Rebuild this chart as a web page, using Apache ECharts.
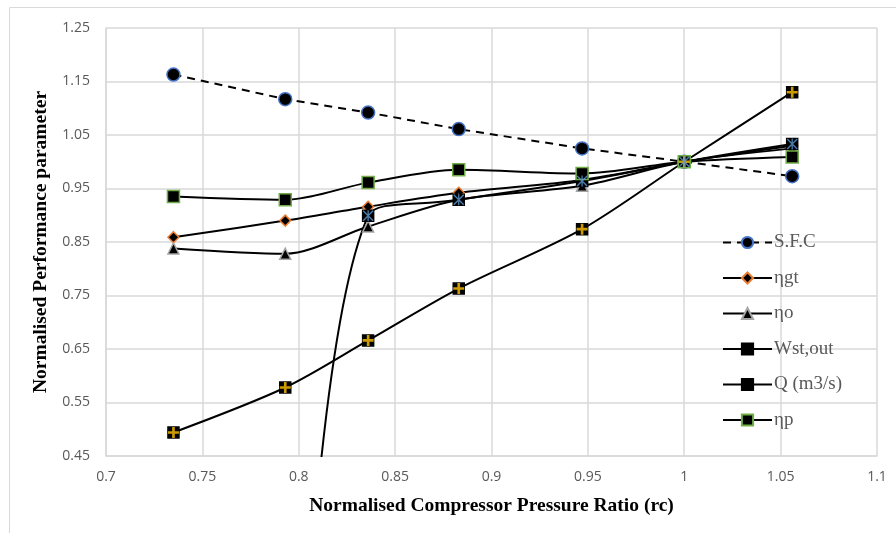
<!DOCTYPE html>
<html>
<head>
<meta charset="utf-8">
<script src="https://cdn.jsdelivr.net/npm/echarts@6/dist/echarts.min.js"></script>
<style>
  html, body { margin: 0; padding: 0; background: #fff; }
  #main { width: 896px; height: 533px; }
</style>
</head>
<body>
<div id="main"></div>
<script>
// x positions (normalised compressor pressure ratio)
let rc = [0.735, 0.793, 0.836, 0.883, 0.947, 1.0, 1.056];

// normalised performance parameters
let sfc = [1.163, 1.117, 1.092, 1.061, 1.025, 1.0, 0.973];
let etaGt = [0.859, 0.890, 0.916, 0.942, 0.966, 1.0, 1.030];
let etaO = [0.838, 0.828, 0.879, 0.929, 0.955, 1.0, 1.025];
let wst = [0.494, 0.578, 0.666, 0.763, 0.874, 1.0, 1.130];
let flowQ = [null, -0.8, 0.899, 0.929, 0.964, 1.0, 1.033];
let etaP = [0.935, 0.929, 0.961, 0.985, 0.978, 1.0, 1.009];

let names = ['S.F.C', 'ηgt', 'ηo', 'Wst,out', 'Q (m3/s)', 'ηp'];

function pairs(ys) {
    return rc.map((x, i) => [x, ys[i]]);
}

let plusPath = 'path://M3.8,0H6.2V10H3.8Z M0,3.8H10V6.2H0Z';
let starPath = 'path://M4.4,0H5.6V10H4.4Z M0,0.9L0.9,0L10,9.1L9.1,10Z M9.1,0L10,0.9L0.9,10L0,9.1Z';

function lineSeries(name, ys, symbol, size, border, extra) {
    return Object.assign({
        name: name,
        type: 'line',
        data: pairs(ys),
        smooth: 0.3,
        symbol: symbol,
        symbolSize: size,
        showAllSymbol: true,
        lineStyle: { color: '#000', width: 2 },
        itemStyle: { color: '#000', borderColor: border, borderWidth: 1.5 },
        emphasis: { disabled: true },
        z: 3
    }, extra || {});
}

let myChart = echarts.init(document.getElementById('main'));

let option = {
    animation: false,
    graphic: [{
        type: 'rect',
        shape: { x: 9.5, y: 7.5, width: 900, height: 540 },
        style: { fill: 'none', stroke: '#d9d9d9', lineWidth: 1 },
        silent: true
    }],
    grid: { left: 106, right: 19, top: 28, bottom: 77 },
    legend: {
        orient: 'vertical',
        left: 717,
        top: 228,
        itemWidth: 49,
        itemHeight: 14,
        itemGap: 16.5,
        data: names,
        textStyle: { fontFamily: 'Liberation Serif', fontSize: 19, color: '#595959', padding: [0, 0, 0, -3] }
    },
    xAxis: {
        type: 'value',
        min: 0.7,
        max: 1.1,
        interval: 0.05,
        name: 'Normalised Compressor Pressure Ratio (rc)',
        nameLocation: 'middle',
        nameGap: 40,
        nameTextStyle: { fontFamily: 'Liberation Serif', fontWeight: 'bold', fontSize: 19.5, color: '#000' },
        axisLine: { lineStyle: { color: '#d9d9d9', width: 1.5 } },
        axisTick: { show: false },
        axisLabel: { color: '#595959', fontSize: 14, fontFamily: 'Open Sans', margin: 14 },
        splitLine: { lineStyle: { color: '#d9d9d9', width: 1.5 } }
    },
    yAxis: {
        type: 'value',
        min: 0.45,
        max: 1.25,
        interval: 0.1,
        name: 'Normalised Performance parameter',
        nameLocation: 'middle',
        nameGap: 48,
        nameTextStyle: { fontFamily: 'Liberation Serif', fontWeight: 'bold', fontSize: 19.5, color: '#000' },
        axisLine: { show: true, lineStyle: { color: '#d9d9d9', width: 1.5 } },
        axisTick: { show: false },
        axisLabel: {
            color: '#595959', fontSize: 14, fontFamily: 'Open Sans', margin: 16,
            formatter: (v) => v.toFixed(2)
        },
        splitLine: { lineStyle: { color: '#d9d9d9', width: 1.5 } }
    },
    series: [
        lineSeries('S.F.C', sfc, 'circle', 13, '#4472C4', {
            smooth: false,
            lineStyle: { color: '#000', width: 2, type: [8, 6] }
        }),
        lineSeries('ηgt', etaGt, 'diamond', 11, '#ED7D31'),
        lineSeries('ηo', etaO, 'triangle', 11, '#A5A5A5'),
        lineSeries('Wst,out', wst, 'rect', 11, '#000'),
        lineSeries('Q (m3/s)', flowQ, 'rect', 11, '#000', { smooth: 0.45 }),
        lineSeries('ηp', etaP, 'rect', 12, '#70AD47'),
        {
            name: 'wst-cross',
            type: 'scatter',
            data: pairs(wst),
            symbol: plusPath,
            symbolSize: 11,
            itemStyle: { color: '#FFC000' },
            silent: true,
            z: 4
        },
        {
            name: 'q-star',
            type: 'scatter',
            data: pairs(flowQ),
            symbol: starPath,
            symbolSize: 11,
            itemStyle: { color: '#5B9BD5' },
            silent: true,
            z: 4
        }
    ]
};

myChart.setOption(option);
</script>
</body>
</html>
